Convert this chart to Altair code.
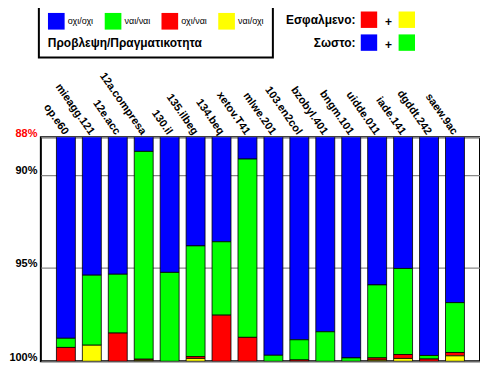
import altair as alt
import pandas as pd

categories = ["op.e60", "mieagg.121", "12e.acc", "12a.compresa", "130.il",
              "135.ilbeg", "134.beq", "xetov.T41", "mlwe.201", "103.en2col",
              "bzobyl.401", "bngm.101", "uidde.011", "iade.141", "dgddt.242",
              "saew.9ac"]
blue = [98.77, 95.39, 95.34, 88.76, 95.24, 93.82, 93.60, 89.17, 99.68, 98.85,
        98.42, 99.82, 95.91, 95.03, 99.69, 96.86]
green = [0.49, 3.75, 3.15, 11.13, 4.76, 5.93, 3.93, 9.55, 0.32, 1.08,
         1.58, 0.18, 3.91, 4.61, 0.19, 2.67]
red = [0.74, 0.0, 1.51, 0.06, 0.0, 0.10, 2.47, 1.28, 0.0, 0.07,
       0.0, 0.0, 0.12, 0.21, 0.12, 0.18]
yellow = [0.0, 0.86, 0.0, 0.05, 0.0, 0.15, 0.0, 0.0, 0.0, 0.0,
          0.0, 0.0, 0.06, 0.15, 0.0, 0.29]
series_labels = ["οχι/οχι", "ναι/ναι", "οχι/ναι", "ναι/οχι"]
series_colors = ["#0000FF", "#00FF00", "#FF0000", "#FFFF00"]
y_ticks = [88, 90, 95, 100]

FONT = "Liberation Sans"

rows = []
for i, c in enumerate(categories):
    for k, vals in enumerate([blue, green, red, yellow]):
        rows.append({"case": c, "series": series_labels[k], "ord": k, "value": vals[i]})
df = pd.DataFrame(rows)

bars = alt.Chart(df).transform_filter("datum.value > 0").mark_bar(
    clip=True, stroke="black", strokeWidth=0.8
).encode(
    x=alt.X("case:N", sort=categories, title=None,
            scale=alt.Scale(paddingInner=0.27, paddingOuter=0.6),
            axis=alt.Axis(orient="top", labelAngle=55, labelAlign="right",
                          labelBaseline="middle", ticks=False, domain=False,
                          labelFont=FONT, labelFontWeight="bold", labelFontSize=11,
                          labelColor="black", labelPadding=4)),
    y=alt.Y("value:Q", stack="zero", title=None,
            scale=alt.Scale(domain=[88, 100], reverse=True, nice=False, zero=False),
            axis=alt.Axis(values=y_ticks, labelExpr="datum.value + '%'", ticks=False,
                          domain=False, grid=True, gridColor="#888888", gridWidth=1.2,
                          labelFont=FONT, labelFontWeight="bold", labelFontSize=11,
                          labelPadding=4, labelOffset=-4, labelFlush=False,
                          labelColor={"condition": {"test": "datum.value == 88", "value": "#FF0000"},
                                      "value": "black"})),
    color=alt.Color("series:N",
                    scale=alt.Scale(domain=series_labels, range=series_colors),
                    legend=alt.Legend(orient="none", legendX=-2, legendY=-134,
                                      direction="horizontal",
                                      title="Προβλεψη/Πραγματικοτητα",
                                      titleOrient="bottom", titleAnchor="start",
                                      titleFont=FONT, titleFontSize=12,
                                      titleFontWeight="bold", titleColor="black",
                                      titlePadding=8,
                                      labelFont=FONT, labelFontSize=9, labelColor="black",
                                      labelOffset=3,
                                      symbolType="square", symbolSize=280,
                                      symbolStrokeWidth=0, symbolOpacity=1,
                                      strokeColor="black", fillColor="white",
                                      padding=9, columnPadding=11)),
    order=alt.Order("ord:Q"),
)

dummy = pd.DataFrame({"k": [0]})

def txt(s, x, y, align="right"):
    return alt.Chart(dummy).mark_text(
        text=s, align=align, baseline="middle", font=FONT, fontSize=12,
        fontWeight="bold", color="black"
    ).encode(x=alt.value(x), y=alt.value(y))

def sw(color, x, y):
    return alt.Chart(dummy).mark_square(
        size=272, color=color, opacity=1, filled=True
    ).encode(x=alt.value(x), y=alt.value(y))

notes = [
    txt("Εσφαλμενο:", 316, -118), sw("#FF0000", 329.5, -118),
    txt("+", 349, -116, "center"), sw("#FFFF00", 367.5, -118),
    txt("Σωστο:", 316, -95), sw("#0000FF", 329.5, -95),
    txt("+", 349, -93, "center"), sw("#00FF00", 367.5, -95),
]

chart = alt.layer(bars, *notes).properties(
    width=441, height=225,
    autosize=alt.AutoSizeParams(type="none"),
    padding={"left": 33, "top": 129, "right": 0, "bottom": 6},
).configure_view(stroke="black", strokeWidth=2).configure_legend(strokeWidth=2)

chart.save("out.html", embed_options={"renderer": "svg", "actions": False})
